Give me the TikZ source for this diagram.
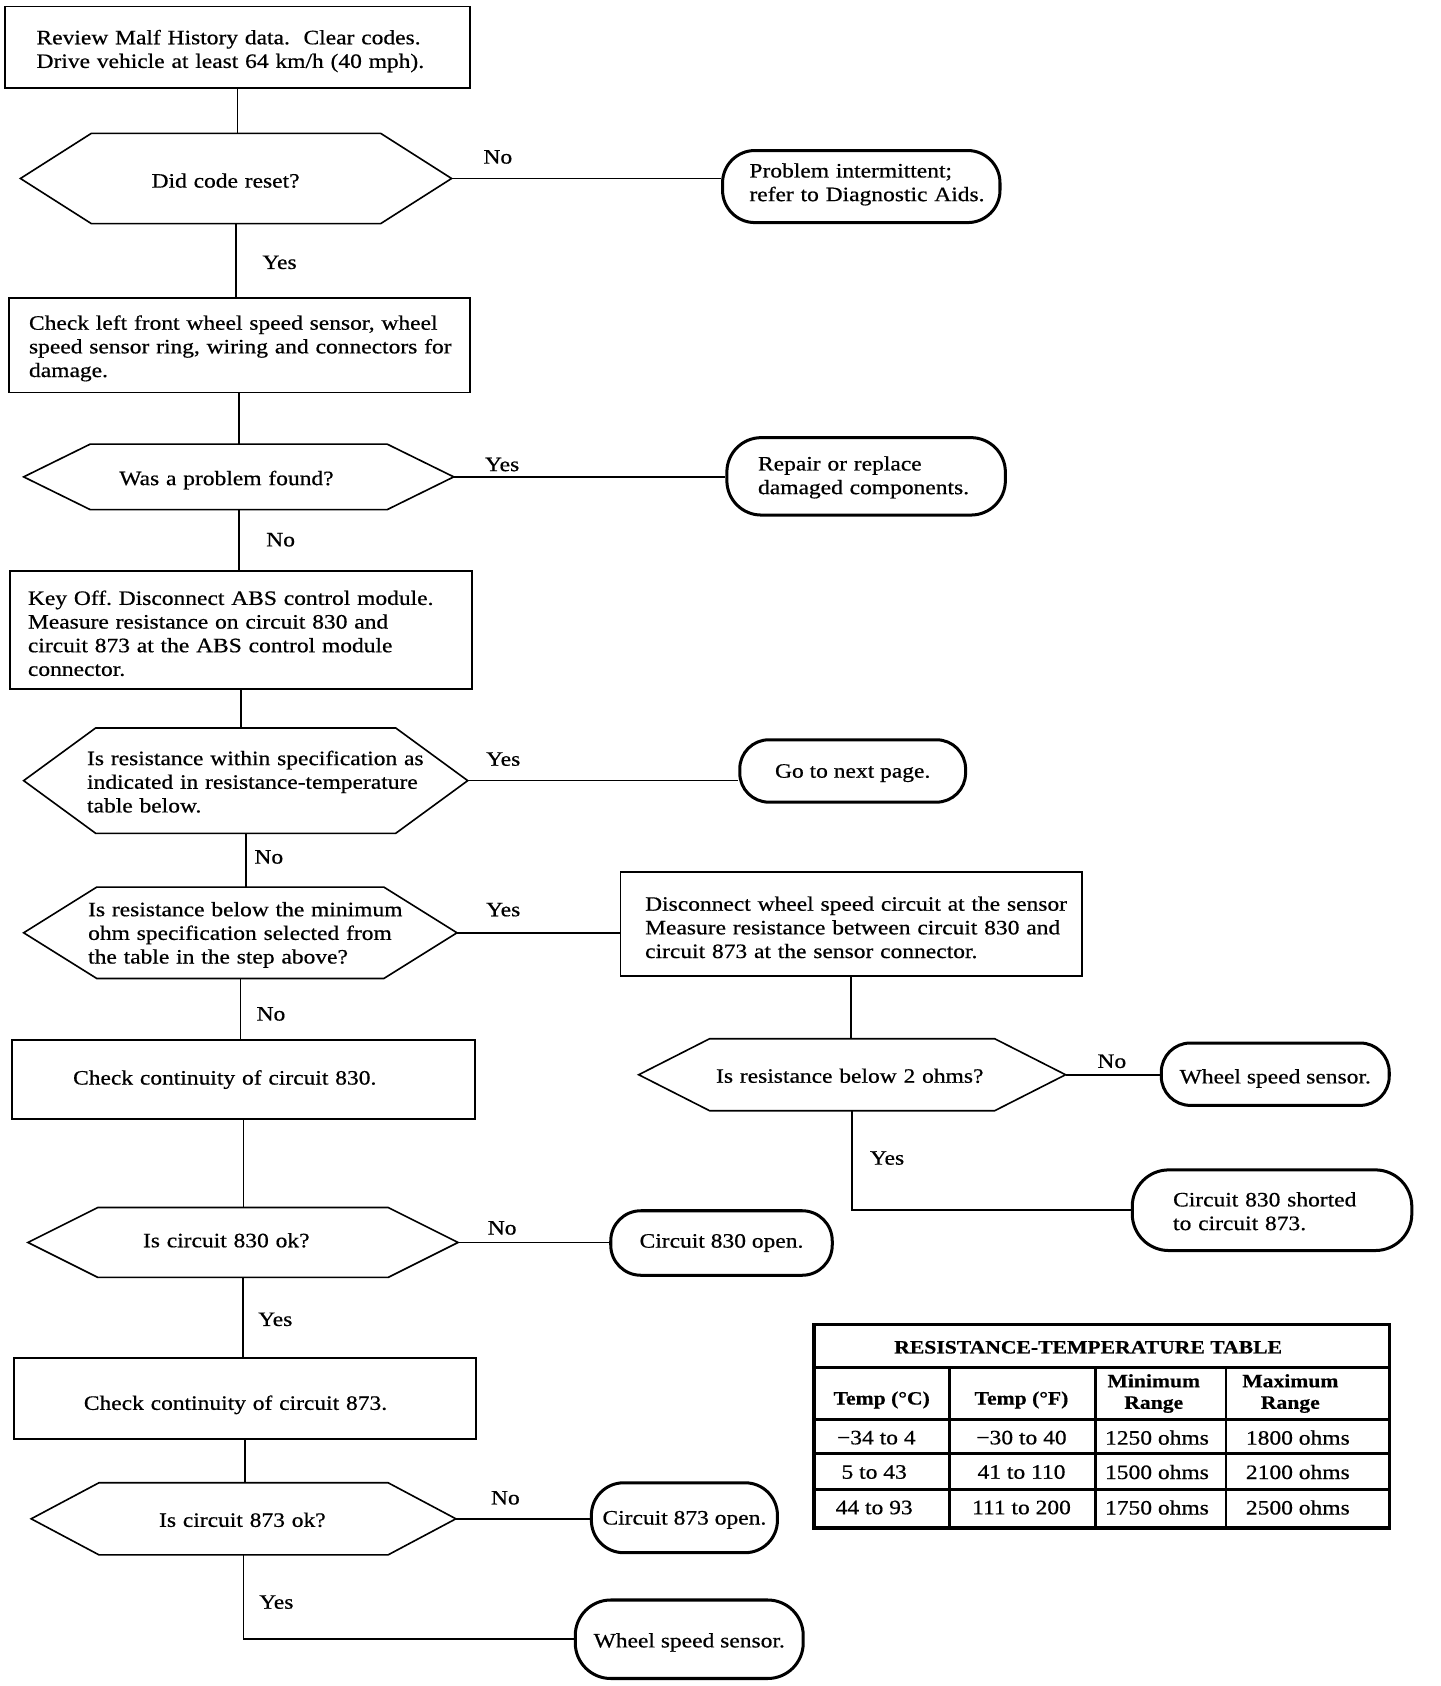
\documentclass[tikz,border=0pt]{standalone}
\usepackage{fontspec}
\setmainfont{Liberation Serif}[FakeStretch=1.15, FakeBold=0.6]
\usetikzlibrary{calc}
\frenchspacing
\newcommand\dn[2]{\raisebox{-#1pt}[\height][\depth]{\mbox{#2}}}
\newcommand\hexoutline[2]{\draw[dline] (#1.west) -- ([xshift=#2pt]#1.north west) -- ([xshift=-#2pt]#1.north east) -- (#1.east) -- ([xshift=-#2pt]#1.south east) -- ([xshift=#2pt]#1.south west) -- cycle;}
\begin{document}
\begin{tikzpicture}[x=1pt,y=-1pt,
  every node/.style={font=\fontsize{19pt}{22pt}\selectfont},
  proc/.style={draw, line width=1.7pt, rectangle, align=left, inner ysep=2pt},
  term/.style={draw, line width=2.8pt, rectangle, align=center, inner xsep=2pt, inner ysep=2pt},
  dtext/.style={rectangle, align=left, outer sep=0pt, inner ysep=2pt},
  dline/.style={line width=1.5pt, line join=miter},
  conn/.style={line width=1.5pt},
  lbl/.style={inner sep=0pt},
  tline/.style={line width=2.4pt},
  tbold/.style={font=\fontsize{17.5pt}{20pt}\selectfont\bfseries, align=center, inner sep=0pt},
  tcell/.style={align=center, inner sep=0pt},
]
\useasboundingbox (0,0) rectangle (1340,1568);

% ---- process boxes
\node[proc, minimum height=76pt, inner xsep=29pt, text width=374pt] (b1) at (221,44)
  {\dn{3.5}{Review Malf History data.\ \ Clear codes.}\\\dn{3.5}{Drive vehicle at least 64 km/h (40 mph).}};
\node[proc, minimum height=88pt, inner xsep=19pt, text width=391pt] (b2) at (222.5,321)
  {\dn{3}{Check left front wheel speed sensor, wheel}\\\dn{3}{speed sensor ring, wiring and connectors for}\\\dn{3}{damage.}};
\node[proc, minimum height=110pt, inner xsep=17pt, text width=396pt] (b3) at (224,586)
  {\dn{3}{Key Off. Disconnect ABS control module.}\\\dn{3}{Measure resistance on circuit 830 and}\\\dn{3}{circuit 873 at the ABS control module}\\\dn{3}{connector.}};
\node[proc, minimum height=97pt, inner xsep=23pt, text width=383pt] (b4) at (791.5,859.5)
  {\dn{3}{Disconnect wheel speed circuit at the sensor}\\\dn{3}{Measure resistance between circuit 830 and}\\\dn{3}{circuit 873 at the sensor connector.}};
\node[proc, minimum height=74pt, inner xsep=57pt, text width=317pt] (b5) at (226.5,1004)
  {\dn{0}{Check continuity of circuit 830.}};
\node[proc, minimum height=75pt, inner xsep=65pt, text width=300pt] (b6) at (228,1300.5)
  {\dn{6}{Check continuity of circuit 873.}};

% ---- decisions
\node[dtext, minimum width=401pt, minimum height=84pt, inner xsep=122pt, text width=157pt] (d1) at (219.5,166)
  {\dn{2}{Did code reset?}};
\hexoutline{d1}{66}
\node[dtext, minimum width=400pt, minimum height=61pt, inner xsep=89pt, text width=222pt] (d2) at (222,443.5)
  {\dn{3}{Was a problem found?}};
\hexoutline{d2}{62}
\node[dtext, minimum width=413pt, minimum height=98pt, inner xsep=59pt, text width=295pt] (d3) at (228.5,726)
  {\dn{1}{Is resistance within specification as}\\\dn{1}{indicated in resistance-temperature}\\\dn{1}{table below.}};
\hexoutline{d3}{67}
\node[dtext, minimum width=403pt, minimum height=85pt, inner xsep=60pt, text width=283pt] (d4) at (223.5,867.5)
  {\dn{2}{Is resistance below the minimum}\\\dn{2}{ohm specification selected from}\\\dn{2}{the table in the step above?}};
\hexoutline{d4}{68}
\node[dtext, minimum width=397pt, minimum height=67pt, inner xsep=72pt, text width=253pt] (d5) at (792.5,999.5)
  {\dn{1}{Is resistance below 2 ohms?}};
\hexoutline{d5}{66}
\node[dtext, minimum width=400pt, minimum height=65pt, inner xsep=107pt, text width=186pt] (d6) at (226,1155.5)
  {\dn{-2}{Is circuit 830 ok?}};
\hexoutline{d6}{65}
\node[dtext, minimum width=395pt, minimum height=67pt, inner xsep=119pt, text width=157pt] (d7) at (226.5,1412.5)
  {\dn{1}{Is circuit 873 ok?}};
\hexoutline{d7}{63}

% ---- terminals
\node[term, rounded corners=30pt, minimum width=258pt, minimum height=67pt, align=left, inner xsep=25pt, text width=208pt] (o1) at (801,173.5)
  {\dn{-2}{Problem intermittent;}\\\dn{-2}{refer to Diagnostic Aids.}};
\node[term, rounded corners=32pt, minimum width=259pt, minimum height=72pt, align=left, inner xsep=29pt, text width=201pt] (o2) at (805.5,443)
  {\dn{1}{Repair or replace}\\\dn{1}{damaged components.}};
\node[term, rounded corners=27pt, minimum width=210pt, minimum height=58pt] (o3) at (793,717) {\dn{2}{Go to next page.}};
\node[term, rounded corners=27pt, minimum width=212pt, minimum height=58pt] (o5) at (1186,999) {\dn{4}{Wheel speed sensor.}};
\node[term, rounded corners=34pt, minimum width=260pt, minimum height=75pt, align=left, inner xsep=38pt, text width=184pt] (o6) at (1183,1125.5)
  {\dn{1}{Circuit 830 shorted}\\\dn{1}{to circuit 873.}};
\node[term, rounded corners=28pt, minimum width=206pt, minimum height=60pt] (o7) at (671,1156) {\dn{0}{Circuit 830 open.}};
\node[term, rounded corners=30pt, minimum width=173pt, minimum height=65pt] (o8) at (636.5,1411.5) {\dn{2}{Circuit 873 open.}};
\node[term, rounded corners=33pt, minimum width=212pt, minimum height=73pt] (o9) at (641,1524.5) {\dn{3}{Wheel speed sensor.}};

% ---- connectors
\draw[conn] (b1.south) -- (b1.south |- d1.north);
\draw[conn] (d1.south) -- (d1.south |- b2.north);
\draw[conn] (b2.south) -- (b2.south |- d2.north);
\draw[conn] (d2.south) -- (d2.south |- b3.north);
\draw[conn] (b3.south) -- (b3.south |- d3.north);
\draw[conn] (d3.south) -- (d3.south |- d4.north);
\draw[conn] (d4.south) -- (d4.south |- b5.north);
\draw[conn] (b5.south) -- (b5.south |- d6.north);
\draw[conn] (d6.south) -- (d6.south |- b6.north);
\draw[conn] (b6.south) -- (b6.south |- d7.north);
\draw[conn] (d7.south) |- (o9.west);
\draw[conn] (d1.east) -- (d1.east -| o1.west);
\draw[conn] (d2.east) -- (d2.east -| o2.west);
\draw[conn] (d3.east) -- (d3.east -| o3.west);
\draw[conn] (d4.east) -- (d4.east -| b4.west);
\draw[conn] (b4.south) -- (b4.south |- d5.north);
\draw[conn] (d5.east) -- (d5.east -| o5.west);
\draw[conn] (d5.south) |- (o6.west);
\draw[conn] (d6.east) -- (d6.east -| o7.west);
\draw[conn] (d7.east) -- (d7.east -| o8.west);

% ---- labels
\node[lbl] (l1) at (463,146) {No};
\node[lbl] (l2) at (260,244) {Yes};
\node[lbl] (l3) at (467,432) {Yes};
\node[lbl] (l4) at (261,502) {No};
\node[lbl] (l5) at (468,706) {Yes};
\node[lbl] (l6) at (250,797) {No};
\node[lbl] (l7) at (468,846) {Yes};
\node[lbl] (l8) at (252,943) {No};
\node[lbl] (l9) at (1034,987) {No};
\node[lbl] (l10) at (825,1077) {Yes};
\node[lbl] (l11) at (467,1142) {No};
\node[lbl] (l12) at (256,1227) {Yes};
\node[lbl] (l13) at (470,1393) {No};
\node[lbl] (l14) at (257,1490) {Yes};

% ---- table
\draw[line width=3pt] (757,1232) rectangle (1292,1421);
\draw[tline] (757,1272) -- (1292,1272);
\draw[tline] (757,1320) -- (1292,1320);
\draw[tline] (757,1352) -- (1292,1352);
\draw[tline] (757,1385) -- (1292,1385);
\draw[tline] (883,1272) -- (883,1421);
\draw[tline] (1019,1272) -- (1019,1421);
\draw[tline] (1140,1272) -- (1140,1421);
\node[tbold] (tt) at (1012,1253) {RESISTANCE-TEMPERATURE TABLE};
\node[tbold] (h1) at (820,1302) {Temp (°C)};
\node[tbold] (h2) at (950,1302) {Temp (°F)};
\node[tbold] (h3) at (1073,1296) {Minimum\\Range};
\node[tbold] (h4) at (1200,1296) {Maximum\\Range};
\node[tcell] (c11) at (815,1337) {−34 to 4};
\node[tcell] (c12) at (950,1337) {−30 to 40};
\node[tcell] (c13) at (1076,1337) {1250 ohms};
\node[tcell] (c14) at (1207,1337) {1800 ohms};
\node[tcell] (c21) at (813,1369) {5 to 43};
\node[tcell] (c22) at (950,1369) {41 to 110};
\node[tcell] (c23) at (1076,1369) {1500 ohms};
\node[tcell] (c24) at (1207,1369) {2100 ohms};
\node[tcell] (c31) at (813,1402) {44 to 93};
\node[tcell] (c32) at (950,1402) {111 to 200};
\node[tcell] (c33) at (1076,1402) {1750 ohms};
\node[tcell] (c34) at (1207,1402) {2500 ohms};
\end{tikzpicture}
\end{document}
